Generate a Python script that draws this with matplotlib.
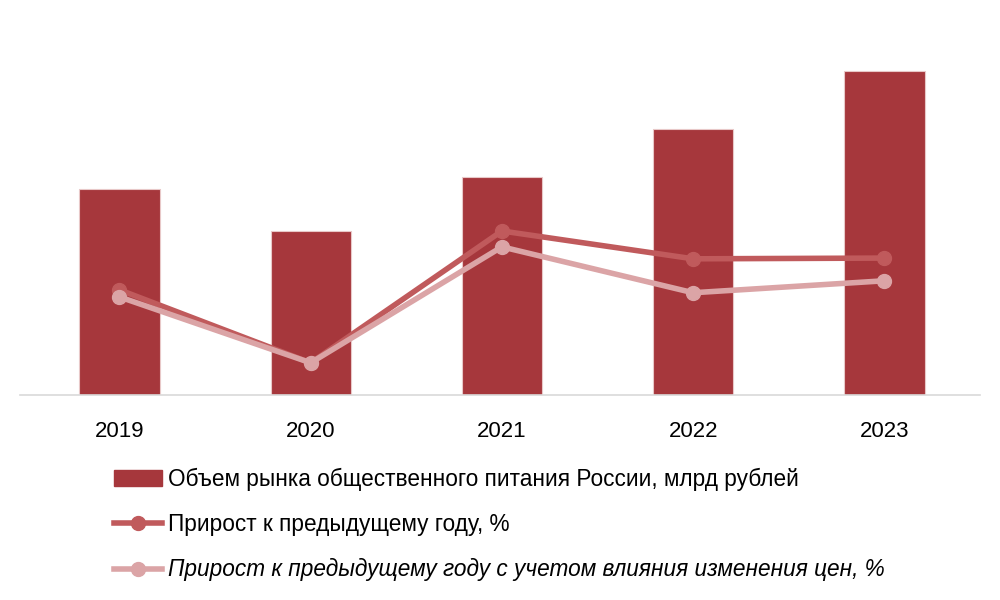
import matplotlib
matplotlib.use('Agg')
import matplotlib.pyplot as plt
from matplotlib.lines import Line2D
from matplotlib.patches import Patch

plt.rcParams['font.family'] = ['Liberation Sans', 'DejaVu Sans']

years = ['2019', '2020', '2021', '2022', '2023']
market_volume = [1760, 1395, 1855, 2265, 2760]
growth = [8.9, -21.0, 33.0, 21.6, 21.9]
growth_real = [6.0, -21.0, 26.5, 7.7, 12.6]

bar_color = '#A6373C'
line1_color = '#C05A5C'
line2_color = '#DBA4A6'

labels = ['Объем рынка общественного питания России, млрд рублей',
          'Прирост к предыдущему году, %',
          'Прирост к предыдущему году с учетом влияния изменения цен, %']

fig = plt.figure(figsize=(10, 6), dpi=100)
ax = fig.add_axes([0.02, 0.342, 0.96, 0.625])
x = list(range(len(years)))
ax.bar(x, market_volume, width=0.42, color=bar_color, edgecolor='#E8C8C8', linewidth=0.8, zorder=2)
ax.set_xlim(-0.52, 4.5)
ax.set_ylim(0, 3200)
ax.set_yticks([])
ax.set_xticks(x)
ax.set_xticklabels(years, fontsize=16)
ax.tick_params(axis='x', length=0, pad=19)
for s in ['top', 'right', 'left']:
    ax.spines[s].set_visible(False)
ax.spines['bottom'].set_color('#D9D9D9')
ax.spines['bottom'].set_linewidth(1.2)

ax2 = ax.twinx()
ax2.set_ylim(-34.1, 119.5)
ax2.plot(x, growth, color=line1_color, lw=4, marker='o', ms=10, zorder=3)
ax2.plot(x, growth_real, color=line2_color, lw=4, marker='o', ms=10, zorder=4)
ax2.set_yticks([])
for s in ax2.spines.values():
    s.set_visible(False)

handles = [Patch(facecolor=bar_color, edgecolor=bar_color),
           Line2D([], [], color=line1_color, lw=4, marker='o', ms=10),
           Line2D([], [], color=line2_color, lw=4, marker='o', ms=10)]
leg = fig.legend(handles, labels, loc='upper left', bbox_to_anchor=(0.105, 0.236),
                 frameon=False, fontsize=16.3, handlelength=2.1, handletextpad=0.3,
                 labelspacing=0.99, borderaxespad=0)
leg.get_texts()[2].set_style('italic')

fig.savefig('out.png')
plt.close(fig)
